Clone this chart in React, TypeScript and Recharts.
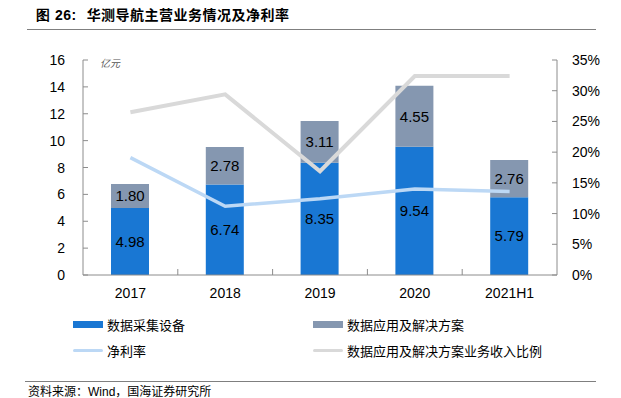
import React from "react";
import { ComposedChart, Bar, Line, XAxis, YAxis, LabelList } from "recharts";

const categories = ["2017", "2018", "2019", "2020", "2021H1"];
const equipment = [4.98, 6.74, 8.35, 9.54, 5.79];
const solutions = [1.8, 2.78, 3.11, 4.55, 2.76];
const netMargin = [0.191, 0.112, 0.124, 0.14, 0.136];
const solutionShare = [0.265, 0.294, 0.169, 0.324, 0.324];
const leftTicks = [0, 2, 4, 6, 8, 10, 12, 14, 16];
const rightTicks = [0, 0.05, 0.1, 0.15, 0.2, 0.25, 0.3, 0.35];

const names = {
  equipment: "数据采集设备",
  solutions: "数据应用及解决方案",
  netMargin: "净利率",
  share: "数据应用及解决方案业务收入比例",
};

const C_EQUIP = "#1977D3";
const C_SOL = "#8597B0";
const C_NET = "#BCD8F5";
const C_SHARE = "#D9D9D9";
const AXIS = "#8C8C8C";

const W = 621;
const H = 398;
const M = { top: 60, right: 24, left: 23, bottom: 93 };
const YW_L = 60;
const YW_R = 40;
const XH = 30;
const PLOT_W = W - M.left - M.right - YW_L - YW_R;

const data = categories.map((c, i) => ({
  name: c,
  equipment: equipment[i],
  solutions: solutions[i],
  netMargin: netMargin[i],
  share: solutionShare[i],
}));

const NUM_FONT = "Arial, 'Liberation Sans', sans-serif";
const CJK_FONT = "'Noto Sans CJK SC', sans-serif";

const LeftTick = (p: any) => {
  const ax = p.x + 5 + 13;
  return (
    <g>
      <line x1={ax} x2={ax + 5} y1={p.y} y2={p.y} stroke={AXIS} strokeWidth={1} />
      <text x={p.x} y={p.y} dy="0.36em" textAnchor="end" fontSize={14} fill="#000" fontFamily={NUM_FONT}>
        {p.payload.value}
      </text>
    </g>
  );
};

const RightTick = (p: any) => {
  const ax = p.x - 5 - 10;
  return (
    <g>
      <line x1={ax} x2={ax - 5} y1={p.y} y2={p.y} stroke={AXIS} strokeWidth={1} />
      <text x={p.x} y={p.y} dy="0.36em" textAnchor="start" fontSize={14} fill="#000" fontFamily={NUM_FONT}>
        {Math.round(p.payload.value * 100) + "%"}
      </text>
    </g>
  );
};

const BottomTick = (p: any) => {
  const ay = p.y - 5 - 7;
  const band = PLOT_W / categories.length;
  const bx = p.x - band / 2;
  return (
    <g>
      {p.index > 0 && <line x1={bx} x2={bx} y1={ay} y2={ay - 6} stroke={AXIS} strokeWidth={1} />}
      <text x={p.x} y={p.y} dy="0.75em" textAnchor="middle" fontSize={14} fill="#000" fontFamily={NUM_FONT}>
        {p.payload.value}
      </text>
    </g>
  );
};

const fmt = (v: any) => Number(v).toFixed(2);

const legendItems = [
  { label: names.equipment, color: C_EQUIP, kind: "bar" },
  { label: names.solutions, color: C_SOL, kind: "bar" },
  { label: names.netMargin, color: C_NET, kind: "line" },
  { label: names.share, color: C_SHARE, kind: "line" },
];

export default function App() {
  return (
    <div style={{ position: "absolute", left: 0, top: 0, width: W, height: H, background: "#fff", overflow: "hidden" }}>
      <div
        style={{
          position: "absolute",
          left: 36,
          top: 4,
          fontFamily: CJK_FONT,
          fontWeight: 700,
          fontSize: 14,
          color: "#000",
          whiteSpace: "nowrap",
          letterSpacing: 0.5,
        }}
      >
        <span style={{ fontFamily: NUM_FONT, fontWeight: 700 }}>图 26:</span>
        <span style={{ marginLeft: 10 }}>华测导航主营业务情况及净利率</span>
      </div>
      <div style={{ position: "absolute", left: 27, top: 29, width: 569, height: 1, background: "#7f7f7f" }} />
      <div
        style={{
          position: "absolute",
          left: 100,
          top: 55,
          fontFamily: CJK_FONT,
          fontSize: 10,
          fontStyle: "italic",
          color: "#555",
        }}
      >
        亿元
      </div>
      <ComposedChart width={W} height={H} data={data} margin={M} barCategoryGap="60%">
        <XAxis
          dataKey="name"
          xAxisId="x"
          height={XH}
          tick={<BottomTick />}
          tickLine={false}
          tickSize={5}
          tickMargin={7}
          axisLine={{ stroke: AXIS }}
          interval={0}
        />
        <YAxis
          yAxisId="left"
          orientation="left"
          width={YW_L}
          domain={[0, 16]}
          ticks={leftTicks}
          tick={<LeftTick />}
          tickLine={false}
          tickSize={5}
          tickMargin={13}
          axisLine={{ stroke: AXIS }}
          interval={0}
        />
        <YAxis
          yAxisId="right"
          orientation="right"
          width={YW_R}
          domain={[0, 0.35]}
          ticks={rightTicks}
          tick={<RightTick />}
          tickLine={false}
          tickSize={5}
          tickMargin={10}
          axisLine={{ stroke: AXIS }}
          interval={0}
        />
        <Bar dataKey="equipment" name={names.equipment} xAxisId="x" yAxisId="left" stackId="s" fill={C_EQUIP} barSize={38} isAnimationActive={false}>
          <LabelList dataKey="equipment" position="center" formatter={fmt} fill="#000" fontSize={15} fontFamily={NUM_FONT} />
        </Bar>
        <Bar dataKey="solutions" name={names.solutions} xAxisId="x" yAxisId="left" stackId="s" fill={C_SOL} barSize={38} isAnimationActive={false}>
          <LabelList dataKey="solutions" position="center" formatter={fmt} fill="#000" fontSize={15} fontFamily={NUM_FONT} />
        </Bar>
        <Line dataKey="share" name={names.share} xAxisId="x" yAxisId="right" stroke={C_SHARE} strokeWidth={4} dot={false} type="linear" isAnimationActive={false} />
        <Line dataKey="netMargin" name={names.netMargin} xAxisId="x" yAxisId="right" stroke={C_NET} strokeWidth={3.5} dot={false} type="linear" isAnimationActive={false} />
      </ComposedChart>
      {legendItems.map((it, i) => {
        const col = i % 2;
        const row = Math.floor(i / 2);
        return (
          <div
            key={it.label}
            style={{
              position: "absolute",
              left: col === 0 ? 73 : 313,
              top: row === 0 ? 315 : 341,
              height: 18,
              display: "flex",
              alignItems: "center",
              whiteSpace: "nowrap",
            }}
          >
            <div
              style={{
                width: 30,
                height: it.kind === "bar" ? 7 : 3,
                background: it.color,
                borderRadius: it.kind === "line" ? 2 : 0,
                marginRight: 4,
              }}
            />
            <span style={{ fontFamily: CJK_FONT, fontSize: 13, color: "#000" }}>{it.label}</span>
          </div>
        );
      })}
      <div style={{ position: "absolute", left: 25, top: 381, width: 571, height: 1, background: "#7f7f7f" }} />
      <div
        style={{
          position: "absolute",
          left: 28,
          top: 384,
          fontFamily: CJK_FONT,
          fontSize: 12,
          lineHeight: "13px",
          color: "#000",
          whiteSpace: "nowrap",
        }}
      >
        资料来源：<span style={{ fontFamily: NUM_FONT }}>Wind</span>，国海证券研究所
      </div>
    </div>
  );
}
